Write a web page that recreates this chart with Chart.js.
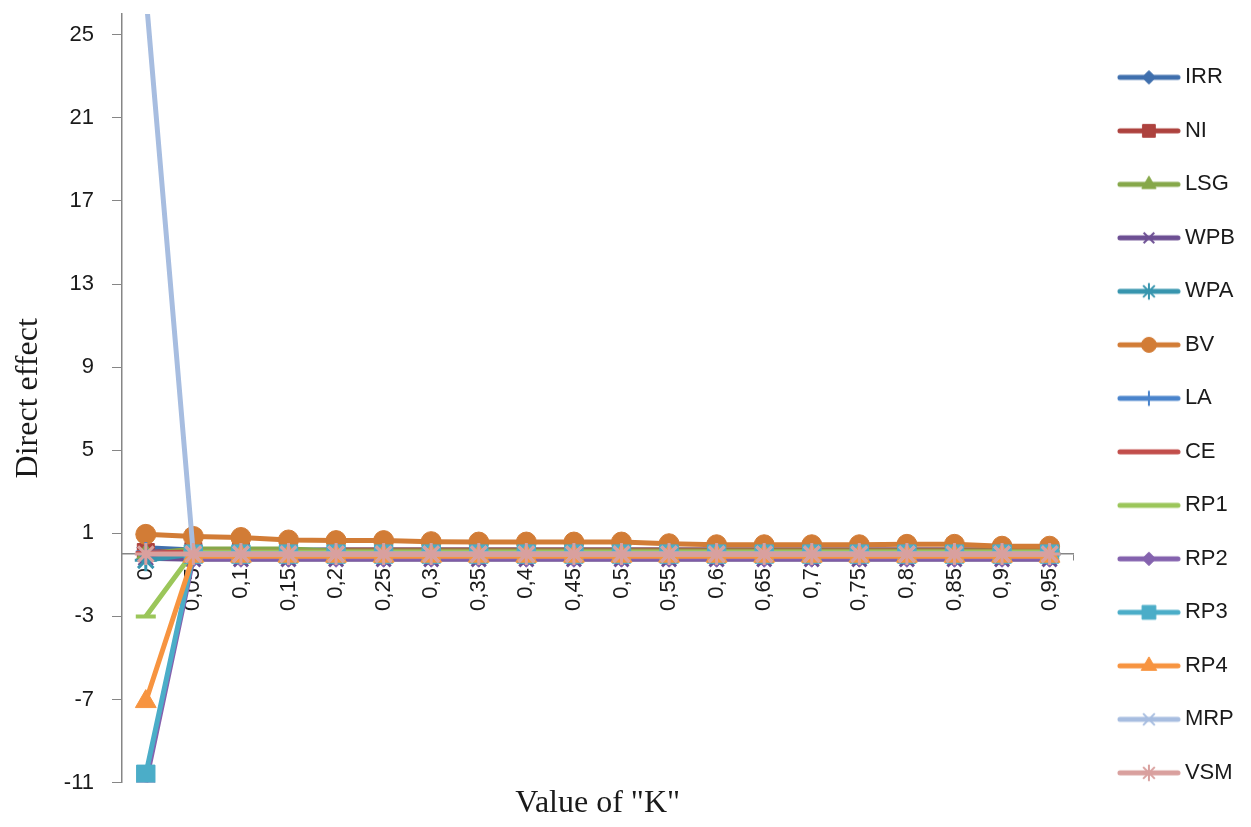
<!DOCTYPE html>
<html>
<head>
<meta charset="utf-8">
<title>Direct effect vs K</title>
<script src="https://cdn.jsdelivr.net/npm/chart.js@4.4.1/dist/chart.umd.min.js"></script>
<style>
    html, body { margin: 0; padding: 0; background: #fff; }
    #wrap { width: 1251px; height: 827px; position: relative; }
</style>
</head>
<body>
<div id="wrap"><canvas id="chart"></canvas></div>
<script>
// categories and axis ticks
const kLabels = ['0', '0,05', '0,1', '0,15', '0,2', '0,25', '0,3', '0,35', '0,4', '0,45',
                 '0,5', '0,55', '0,6', '0,65', '0,7', '0,75', '0,8', '0,85', '0,9', '0,95'];
const yTicks = [-11, -7, -3, 1, 5, 9, 13, 17, 21, 25];

// series values
const IRR = [0.3, 0.2, 0.2, 0.2, 0.2, 0.2, 0.2, 0.2, 0.2, 0.2, 0.2, 0.2, 0.2, 0.2, 0.2, 0.2, 0.2, 0.2, 0.2, 0.2];
const NI  = [0.1, 0.15, 0.15, 0.15, 0.2, 0.2, 0.2, 0.2, 0.2, 0.2, 0.2, 0.2, 0.2, 0.2, 0.2, 0.2, 0.2, 0.2, 0.2, 0.2];
const LSG = [0.0, 0.25, 0.25, 0.25, 0.15, 0.15, 0.15, 0.15, 0.15, 0.15, 0.15, 0.15, 0.15, 0.15, 0.15, 0.15, 0.15, 0.15, 0.15, 0.15];
const WPB = [-0.2, -0.25, -0.25, -0.25, -0.25, -0.25, -0.25, -0.25, -0.25, -0.25, -0.25, -0.25, -0.25, -0.25, -0.25, -0.25, -0.25, -0.25, -0.25, -0.25];
const WPA = [-0.3, 0, 0, 0, 0, 0, 0, 0, 0, 0, 0, 0, 0, 0, 0, 0, 0, 0, 0, 0];
const BV  = [0.95, 0.85, 0.8, 0.68, 0.65, 0.65, 0.6, 0.58, 0.58, 0.58, 0.58, 0.5, 0.45, 0.45, 0.45, 0.45, 0.47, 0.47, 0.38, 0.38];
const LA  = [0.1, 0.05, 0.05, 0.05, 0.05, 0.05, 0.05, 0.05, 0.05, 0.05, 0.05, 0.05, 0.05, 0.05, 0.05, 0.05, 0.05, 0.05, 0.05, 0.05];
const CE  = [0.05, 0.1, 0.1, 0.1, 0.1, 0.1, 0.1, 0.1, 0.1, 0.1, 0.1, 0.1, 0.1, 0.1, 0.1, 0.1, 0.1, 0.1, 0.1, 0.1];
const RP1 = [-3.0, 0.1, 0.1, 0.1, 0.1, 0.1, 0.1, 0.1, 0.1, 0.1, 0.1, 0.1, 0.1, 0.1, 0.1, 0.1, 0.1, 0.1, 0.1, 0.1];
const RP2 = [-11.0, -0.2, -0.2, -0.2, -0.2, -0.2, -0.2, -0.2, -0.2, -0.2, -0.2, -0.2, -0.2, -0.2, -0.2, -0.2, -0.2, -0.2, -0.2, -0.2];
const RP3 = [-10.6, 0, 0, 0, 0, 0, 0, 0, 0, 0, 0, 0, 0, 0, 0, 0, 0, 0, 0, 0];
const RP4 = [-7.1, -0.1, -0.1, -0.1, -0.1, -0.1, -0.1, -0.1, -0.1, -0.1, -0.1, -0.1, -0.1, -0.1, -0.1, -0.1, -0.1, -0.1, -0.1, -0.1];
const MRP = [27, 0, 0, 0, 0, 0, 0, 0, 0, 0, 0, 0, 0, 0, 0, 0, 0, 0, 0, 0];
const VSM = [0, 0, 0, 0, 0, 0, 0, 0, 0, 0, 0, 0, 0, 0, 0, 0, 0, 0, 0, 0];

const series = [
    { name: 'IRR', data: IRR, color: '#3F6FAD', marker: 'rectRot',  radius: 9,  bw: 1 },
    { name: 'NI',  data: NI,  color: '#AD423E', marker: 'rect',     radius: 12, bw: 1 },
    { name: 'LSG', data: LSG, color: '#86A84A', marker: 'triangle', radius: 11, bw: 1 },
    { name: 'WPB', data: WPB, color: '#6D4F93', marker: 'crossRot', radius: 10, bw: 3 },
    { name: 'WPA', data: WPA, color: '#3795AE', marker: 'star',     radius: 11, bw: 3 },
    { name: 'BV',  data: BV,  color: '#D27C36', marker: 'circle',   radius: 10, bw: 1 },
    { name: 'LA',  data: LA,  color: '#4A84CC', marker: 'cross',    radius: 10, bw: 3 },
    { name: 'CE',  data: CE,  color: '#C24E4B', marker: 'line',     radius: 10, bw: 4 },
    { name: 'RP1', data: RP1, color: '#9BC65A', marker: 'line',     radius: 10, bw: 4 },
    { name: 'RP2', data: RP2, color: '#8462AE', marker: 'rectRot',  radius: 9,  bw: 1 },
    { name: 'RP3', data: RP3, color: '#4BADC8', marker: 'rect',     radius: 13, bw: 1 },
    { name: 'RP4', data: RP4, color: '#F79440', marker: 'triangle', radius: 12, bw: 1 },
    { name: 'MRP', data: MRP, color: '#A7BDE0', marker: 'crossRot', radius: 11, bw: 3 },
    { name: 'VSM', data: VSM, color: '#D9A09E', marker: 'star',     radius: 11, bw: 3 }
];

// small line + marker picture used as the legend symbol
function makeSwatch(s) {
    const c = document.createElement('canvas');
    c.width = 64;
    c.height = 24;
    const g = c.getContext('2d');
    g.strokeStyle = s.color;
    g.fillStyle = s.color;
    g.lineWidth = 5;
    g.lineCap = 'round';
    g.beginPath();
    g.moveTo(3, 12);
    g.lineTo(61, 12);
    g.stroke();
    g.lineCap = 'butt';
    g.lineWidth = Math.min(s.bw, 2);
    if (s.marker !== 'line') {
        Chart.helpers.drawPoint(g, { pointStyle: s.marker, radius: s.radius * 0.75, rotation: 0, borderWidth: g.lineWidth }, 32, 12);
    }
    return c;
}

const tickFont = { family: '"Liberation Sans", Arial, sans-serif', size: 22 };
const titleFont = { family: '"Liberation Serif", "Times New Roman", serif', size: 32, weight: 'normal' };
const axisGrey = '#868686';
const textColor = '#1a1a1a';

const ctx = document.getElementById('chart').getContext('2d');
new Chart(ctx, {
    type: 'line',
    data: {
        labels: kLabels,
        datasets: series.map((s, i) => ({
            label: s.name,
            data: s.data,
            borderColor: s.color,
            backgroundColor: s.color,
            borderWidth: 5,
            tension: 0,
            fill: false,
            pointStyle: s.marker,
            pointRadius: s.radius,
            pointBackgroundColor: s.color,
            pointBorderColor: s.color,
            pointBorderWidth: s.bw,
            order: series.length - i
        }))
    },
    options: {
        responsive: true,
        maintainAspectRatio: false,
        animation: false,
        layout: { padding: { top: 14, left: 0, right: 6, bottom: 0 } },
        plugins: {
            tooltip: { enabled: false },
            title: {
                display: true,
                position: 'bottom',
                fullSize: false,
                text: 'Value of "K"',
                color: textColor,
                font: titleFont,
                padding: { top: 2, bottom: 4 }
            },
            legend: {
                display: true,
                position: 'right',
                title: { display: true, text: ' ', font: { size: 1 }, padding: { top: 4, bottom: 4 } },
                labels: {
                    usePointStyle: true,
                    pointStyleWidth: 50,
                    padding: 31.5,
                    color: textColor,
                    font: { family: '"Liberation Sans", Arial, sans-serif', size: 22 },
                    generateLabels: () => series.map((s, i) => ({
                        text: s.name,
                        fillStyle: s.color,
                        strokeStyle: s.color,
                        fontColor: textColor,
                        lineWidth: 0,
                        pointStyle: makeSwatch(s),
                        hidden: false,
                        datasetIndex: i
                    }))
                }
            }
        },
        scales: {
            x: {
                type: 'category',
                offset: true,
                position: { y: 0 },
                grid: { display: true, drawOnChartArea: false, offset: true, tickLength: 6, color: axisGrey },
                border: { display: true, color: axisGrey, width: 1.5 },
                ticks: {
                    autoSkip: false,
                    minRotation: 90,
                    maxRotation: 90,
                    padding: 8,
                    color: textColor,
                    font: tickFont
                }
            },
            y: {
                type: 'linear',
                position: 'left',
                min: -11,
                max: 26,
                afterBuildTicks: scale => { scale.ticks = yTicks.map(v => ({ value: v })); },
                afterFit: scale => {
                    scale.width = 122;
                    scale.paddingTop = 0;
                    scale.paddingBottom = 0;
                },
                grid: { display: true, drawOnChartArea: false, tickLength: 10, color: axisGrey },
                border: { display: true, color: axisGrey, width: 1.5 },
                ticks: { padding: 18, color: textColor, font: tickFont },
                title: {
                    display: true,
                    text: 'Direct effect',
                    color: textColor,
                    font: titleFont,
                    padding: { top: 9, bottom: 0 }
                }
            },
            gap: {
                type: 'linear',
                position: 'right',
                display: true,
                grid: { display: false },
                border: { display: false },
                ticks: { display: false },
                afterFit: scale => {
                    scale.width = 19;
                    scale.paddingTop = 0;
                    scale.paddingBottom = 0;
                }
            }
        }
    }
});
</script>
</body>
</html>
